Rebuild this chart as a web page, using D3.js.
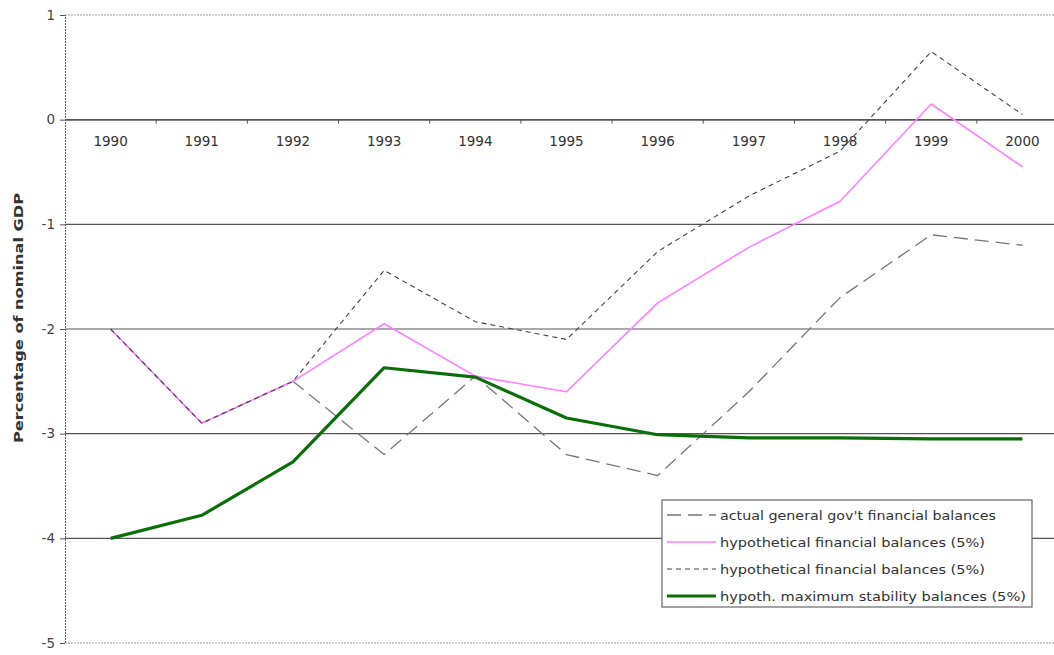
<!DOCTYPE html>
<html><head><meta charset="utf-8">
<script src="https://cdn.jsdelivr.net/npm/d3@7"></script>
<style>body{margin:0;background:#fff}svg{display:block}</style>
</head><body>
<svg id="c" width="1054" height="655"></svg>
<script>
const years = ["1990","1991","1992","1993","1994","1995","1996","1997","1998","1999","2000"];
const actual = [-2.0,-2.9,-2.5,-3.2,-2.45,-3.2,-3.4,-2.6,-1.7,-1.1,-1.2];
const hypoPink = [-2.0,-2.9,-2.5,-1.95,-2.45,-2.6,-1.75,-1.22,-0.78,0.15,-0.45];
const hypoDash = [-2.0,-2.9,-2.5,-1.44,-1.93,-2.1,-1.26,-0.73,-0.3,0.65,0.05];
const stability = [-4.0,-3.78,-3.27,-2.37,-2.46,-2.85,-3.01,-3.04,-3.04,-3.05,-3.05];
const yTicks = [1,0,-1,-2,-3,-4,-5];
const legendLabels = ["actual general gov't financial balances","hypothetical financial balances (5%)","hypothetical financial balances (5%)","hypoth. maximum stability balances (5%)"];

const svg = d3.select("#c");
const x = d3.scaleBand().domain(years).range([65, 1068]);
const y = d3.scaleLinear().domain([-5, 1]).range([643, 15]);
const font = "'DejaVu Sans', Verdana, sans-serif";

// gridlines
svg.append("g").selectAll("line").data(yTicks).join("line")
  .attr("x1", 65).attr("x2", 1054)
  .attr("y1", d => y(d)).attr("y2", d => y(d))
  .attr("stroke", d => (d === 1 || d === -5) ? "#999" : "#555")
  .attr("stroke-dasharray", d => (d === 1 || d === -5) ? "2,1" : null)
  .attr("stroke-width", 1.2);

// y axis
const yAxis = svg.append("g").attr("transform", "translate(65,0)")
  .call(d3.axisLeft(y).tickValues(yTicks).tickSize(5).tickFormat(d => String(d)));
yAxis.select(".domain").attr("stroke", "#666").attr("stroke-dasharray", "2,1");
yAxis.selectAll(".tick line").attr("stroke", "#555");
yAxis.selectAll("text").attr("font-family", font).attr("font-size", 13.5).attr("fill", "#444").attr("x", -10);

// x axis at 0
const xAxis = svg.append("g").attr("transform", `translate(0,${y(0)})`)
  .call(d3.axisBottom(x).tickSize(0).tickPadding(17));
xAxis.select(".domain").attr("stroke", "#555");
xAxis.selectAll("text").attr("font-family", font).attr("font-size", 13.5).attr("fill", "#333");
svg.append("g").selectAll("line").data(years.slice(1)).join("line")
  .attr("x1", d => x(d)).attr("x2", d => x(d))
  .attr("y1", y(0)).attr("y2", y(0) + 4).attr("stroke", "#555");

// y label
svg.append("text").attr("transform", "translate(23,318) rotate(-90)")
  .attr("text-anchor", "middle").attr("font-family", font).attr("font-size", 13)
  .attr("font-weight", "bold").attr("fill", "#333")
  .attr("textLength", 250).attr("lengthAdjust", "spacingAndGlyphs")
  .text("Percentage of nominal GDP");

const line = d3.line().x((d, i) => x(years[i]) + x.bandwidth() / 2).y(d => y(d));
const series = [
  {data: actual, color: "#777", width: 1.3, dash: "14,7"},
  {data: hypoPink, color: "#ff80ff", width: 1.6, dash: null},
  {data: hypoDash, color: "#444", width: 1.1, dash: "5,4"},
  {data: stability, color: "#0b6e0b", width: 3.2, dash: null}
];
svg.append("g").selectAll("path").data(series).join("path")
  .attr("d", d => line(d.data)).attr("fill", "none")
  .attr("stroke", d => d.color).attr("stroke-width", d => d.width)
  .attr("stroke-dasharray", d => d.dash).attr("stroke-linejoin", "round");

// legend
const lg = svg.append("g");
lg.append("rect").attr("x", 662).attr("y", 500).attr("width", 370).attr("height", 107)
  .attr("fill", "#fff").attr("stroke", "#666").attr("stroke-width", 1.2);
const ly = [515, 542, 569, 596];
const lw = [276, 265, 265, 306];
series.forEach((s, i) => {
  lg.append("line").attr("x1", 667).attr("x2", 716).attr("y1", ly[i]).attr("y2", ly[i])
    .attr("stroke", s.color).attr("stroke-width", s.width).attr("stroke-dasharray", s.dash);
  lg.append("text").attr("x", 720).attr("y", ly[i] + 5).attr("font-family", font)
    .attr("font-size", 13).attr("fill", "#333")
    .attr("textLength", lw[i]).attr("lengthAdjust", "spacingAndGlyphs")
    .text(legendLabels[i]);
});
</script>
</body></html>
